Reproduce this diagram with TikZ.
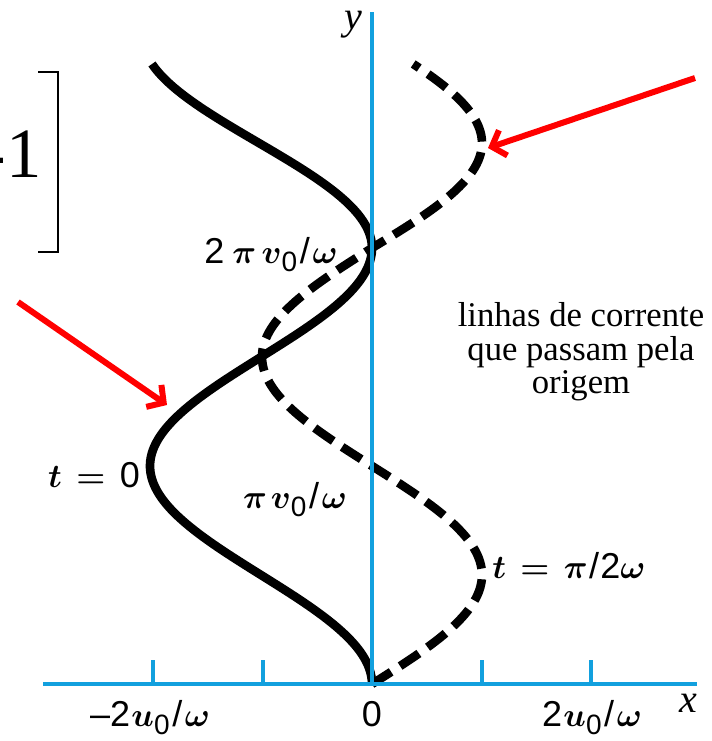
\documentclass[tikz,border=0pt]{standalone}
\usepackage{fontspec}
\setmainfont{Liberation Serif}
\newfontfamily\lblfont{Liberation Sans}
\usetikzlibrary{arrows.meta}
\definecolor{axisblue}{RGB}{18,160,222}
\newcommand{\zsub}{\raisebox{-6pt}{\fontsize{21}{21}\selectfont 0}}
\newcommand{\eqsp}{\hspace{0.4em}$=$\hspace{0.4em}}
\newcommand{\overw}{\hspace{2pt}/\hspace{2pt}$\omega$}

\begin{document}
\begin{tikzpicture}[x=0.75pt, y=-0.75pt, every node/.style={inner sep=0pt},
	lbl/.style={font=\fontsize{27}{29}\selectfont\lblfont\boldmath},
	axislbl/.style={font=\fontsize{30}{30}\selectfont\itshape},
	axisline/.style={axisblue, line width=3pt},
	streamline/.style={black, line width=6.5pt},
	redarrow/.style={red, line width=4.5pt, -{Straight Barb[length=9pt, width=20pt]}}]
	\useasboundingbox (0,0) rectangle (711,741);
	\coordinate (xl) at (43,684);
	\coordinate (xr) at (697,684);
	\coordinate (O) at (372,684);
	\coordinate (yt) at (372,12);
	% streamlines through the origin
	\draw[streamline] plot[variable=\t, domain=0:518, samples=170, smooth]
		({372-(111+0.02*max(\t-360,0))*(1-cos(\t))}, {684-1.2111*min(\t,360)-1.1646*max(\t-360,0)});
	\draw[streamline, dash pattern=on 17pt off 8pt] plot[variable=\t, domain=0:518, samples=170, smooth]
		({372+110*sin(\t)}, {684-1.2111*min(\t,360)-1.1646*max(\t-360,0)});
	% axes
	\draw[axisline] (xl) -- (xr);
	\draw[axisline] (O) -- (yt);
	\foreach \i in {-2,-1,1,2} {
		\pgfmathsetmacro{\xt}{372+109.5*\i}
		\draw[axisline] (\xt,684) -- (\xt,660);
	}
	\node[axislbl] (ylbl) at (353,25) {y};
	\node[axislbl] (xlbl) at (688,703) {x};
	\node[lbl, anchor=base] (xm2) at (150,726) {–2\hspace{1pt}$u$\zsub\overw};
	\node[lbl, anchor=base] (x0) at (372,726) {0};
	\node[lbl, anchor=base] (xp2) at (592,726) {2\hspace{1pt}$u$\zsub\overw};
	\node[lbl, anchor=base] (ytwo) at (271,263) {2\hspace{6pt}$\pi$\hspace{4pt}$v$\zsub\overw};
	\node[lbl, anchor=base] (yone) at (295,508) {$\pi$\hspace{3pt}$v$\zsub\overw};
	\node[lbl, anchor=base] (tzero) at (94,487) {$t$\eqsp 0};
	\node[lbl, anchor=base west] (thalf) at (492,578) {$t$\eqsp$\pi$\hspace{1pt}/\hspace{1pt}2$\omega$};
	\node[font=\fontsize{26}{25}\selectfont, align=center] (desc) at (581,352) {linhas de corrente\\que passam pela\\origem};
	% bracket at the top left
	\node[font=\fontsize{53}{53}\selectfont, anchor=base east] (num) at (42,178) {-1};
	\draw[line width=2.2pt] (38,72) -- (58,72) -- (58,252) -- (38,252);
	% red pointers
	\coordinate (tailA) at (695,78);
	\coordinate (tipA) at (488,148);
	\coordinate (tailB) at (18,302);
	\coordinate (tipB) at (167,405);
	\draw[redarrow] (tailA) -- (tipA);
	\draw[redarrow] (tailB) -- (tipB);
\end{tikzpicture}
\end{document}
